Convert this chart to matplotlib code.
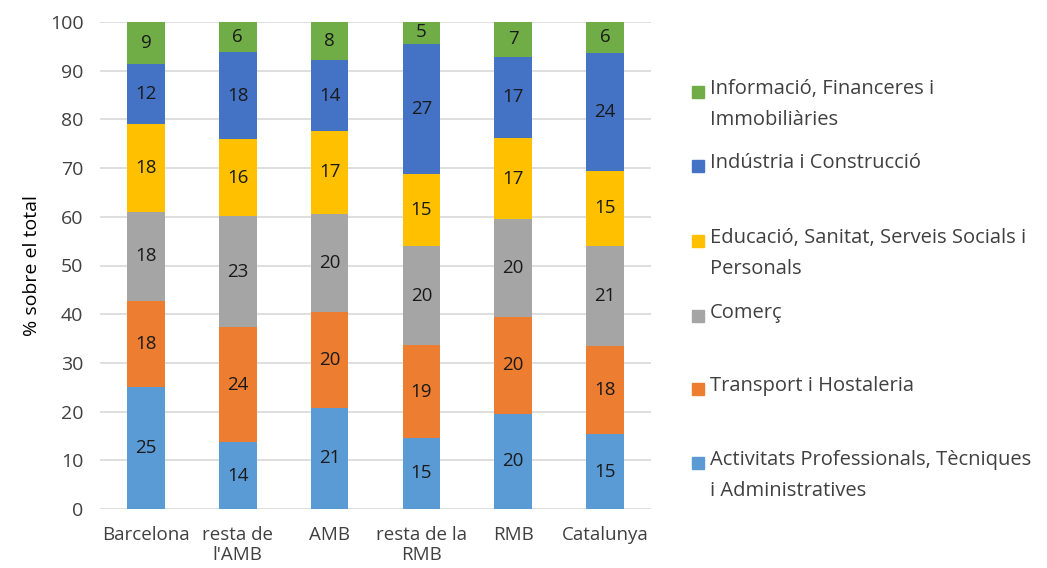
import numpy as np
import matplotlib
matplotlib.use("Agg")
from matplotlib import pyplot as plt
from matplotlib.patches import Rectangle

plt.rcParams['font.family'] = ['Open Sans', 'DejaVu Sans']

# Data (% sobre el total)
territoris = ['Barcelona', "resta de\nl'AMB", 'AMB', 'resta de la\nRMB', 'RMB', 'Catalunya']

sectors = [
    'Activitats Professionals, Tècniques\ni Administratives',
    'Transport i Hostaleria',
    'Comerç',
    'Educació, Sanitat, Serveis Socials i\nPersonals',
    'Indústria i Construcció',
    'Informació, Financeres i\nImmobiliàries',
]

activitats = [25.1, 13.7, 20.8, 14.6, 19.6, 15.3]
transport = [17.7, 23.6, 19.7, 19.0, 19.8, 18.1]
comerc = [18.2, 22.9, 20.1, 20.4, 20.1, 20.7]
educacio = [18.0, 15.7, 17.1, 14.8, 16.6, 15.4]
industria = [12.3, 17.9, 14.4, 26.6, 16.8, 24.2]
informacio = [8.7, 6.3, 7.8, 4.9, 7.2, 6.3]

series = [activitats, transport, comerc, educacio, industria, informacio]
colors = ['#5B9BD5', '#ED7D31', '#A5A5A5', '#FFC000', '#4472C4', '#70AD47']

W, H = 1047, 568
fig = plt.figure(figsize=(W / 100, H / 100), dpi=100)
ax = fig.add_axes([100 / W, 1 - 509 / H, 551 / W, 487 / H])

x = np.arange(len(territoris))
bottom = np.zeros(len(territoris))
for vals, col in zip(series, colors):
    vals = np.array(vals)
    ax.bar(x, vals, bottom=bottom, width=0.41, color=col, zorder=3)
    for xi, b, v in zip(x, bottom, vals):
        ax.text(xi, b + v / 2, f'{round(v):d}', ha='center', va='center',
                fontsize=13.5, color='#1a1a1a', zorder=4)
    bottom += vals

ax.set_xlim(-0.5, len(territoris) - 0.5)
ax.set_ylim(0, 100)
ax.set_yticks(range(0, 101, 10))
ax.set_xticks(x)
ax.set_xticklabels(territoris, fontsize=13.5, color='#404040', linespacing=1.15)
ax.tick_params(axis='y', labelsize=14, colors='#404040', length=0, pad=12)
ax.tick_params(axis='x', length=0, pad=12)
ax.grid(axis='y', color='#D9D9D9', linewidth=1.2, zorder=0)
for s in ax.spines.values():
    s.set_visible(False)
ax.set_ylabel('% sobre el total', fontsize=14, color='#000000', labelpad=6)

# Legend (top to bottom, reversed order), equal slots like the original
first_line_y = [92, 166, 241, 316, 389, 463]
for k, i in enumerate(reversed(range(len(sectors)))):
    yc = first_line_y[k]
    fig.patches.append(Rectangle((692 / W, 1 - (yc + 6) / H), 12 / W, 12 / H,
                                 transform=fig.transFigure, color=colors[i]))
    fig.text(710 / W, 1 - (yc - 13) / H, sectors[i], fontsize=14.5, color='#404040',
             ha='left', va='top', linespacing=1.75)

fig.savefig('out.png', dpi=100)
